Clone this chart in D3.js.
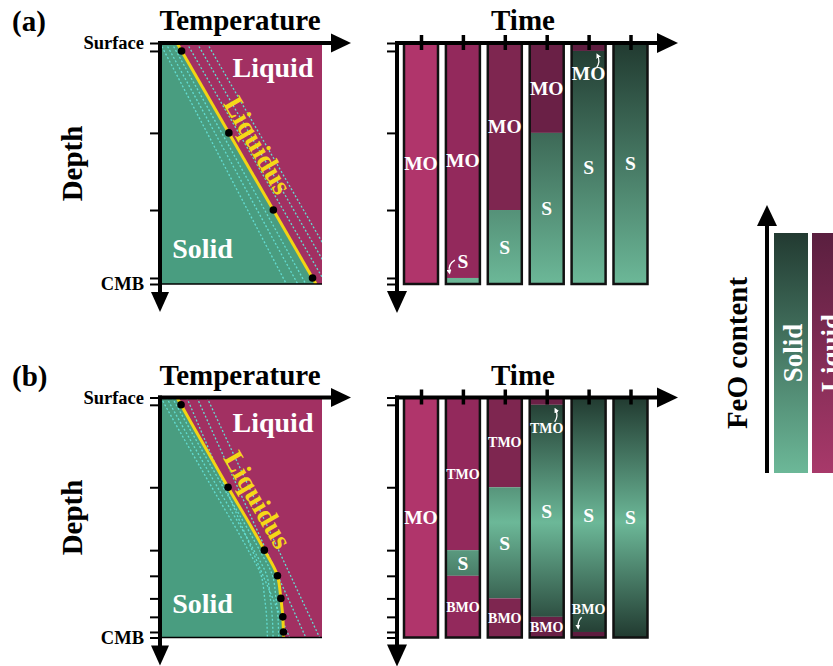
<!DOCTYPE html>
<html><head><meta charset="utf-8">
<script src="https://cdn.jsdelivr.net/npm/d3@7"></script>
<style>
body{margin:0;background:#fff}
svg{display:block}
text{font-family:"Liberation Serif","Times New Roman",serif;font-weight:bold}
</style>
</head><body>
<svg id="c" width="833" height="666"></svg>
<script>
// ---------------- data ----------------
const timeSteps = [1, 2, 3, 4, 5, 6];
const depthTicksA = [0, 0.033, 0.373, 0.693, 0.975, 1];
const depthTicksB = [0, 0.0305, 0.374, 0.636, 0.743, 0.837, 0.914, 0.977, 1];
const depthTickLabels = {0: "Surface", 1: "CMB"};
const liquidusA = [{d: 0, t: 0.105}, {d: 1, t: 0.963}];
const liquidusB = [{d: 0, t: 0.105}, {d: 0.0305, t: 0.13}, {d: 0.374, t: 0.42}, {d: 0.636, t: 0.644},
  {d: 0.743, t: 0.725}, {d: 0.837, t: 0.746}, {d: 0.914, t: 0.758}, {d: 0.977, t: 0.762}, {d: 1, t: 0.763}];
const dotDepthsA = [0.033, 0.373, 0.693, 0.975];
const dotDepthsB = [0.0305, 0.374, 0.636, 0.743, 0.837, 0.914, 0.977];
// dotted isolines: [temperature at surface, temperature at CMB]
const isoLeftA = [[0.072, 0.90], [0.035, 0.85], [0.0, 0.78]];
const isoRightA = [[0.165, 1.025], [0.228, 1.09], [0.29, 1.15]];
const isoLeftShiftB = [0.03, 0.065, 0.10];
const isoRightB = [[0.165, 0.80], [0.228, 0.90], [0.29, 0.985]];
// layers per time step (depth fractions)
const layersA = [
  [{top: 0, bot: 1, kind: "L", label: "MO"}],
  [{top: 0, bot: 0.975, kind: "L", label: "MO"}, {top: 0.975, bot: 1, kind: "S", label: "S", labelAt: 0.905, arrow: "sideDown"}],
  [{top: 0, bot: 0.693, kind: "L", label: "MO"}, {top: 0.693, bot: 1, kind: "S", label: "S"}],
  [{top: 0, bot: 0.373, kind: "L", label: "MO"}, {top: 0.373, bot: 1, kind: "S", label: "S"}],
  [{top: 0, bot: 0.033, kind: "L", label: "MO", labelAt: 0.127, arrow: "topUp"}, {top: 0.033, bot: 1, kind: "S", label: "S"}],
  [{top: 0, bot: 1, kind: "S", label: "S"}]
];
const layersB = [
  [{top: 0, bot: 1, kind: "L", label: "MO"}],
  [{top: 0, bot: 0.636, kind: "L", label: "TMO"}, {top: 0.636, bot: 0.743, kind: "S", label: "S"}, {top: 0.743, bot: 1, kind: "L", label: "BMO"}],
  [{top: 0, bot: 0.374, kind: "L", label: "TMO"}, {top: 0.374, bot: 0.837, kind: "S", label: "S"}, {top: 0.837, bot: 1, kind: "L", label: "BMO"}],
  [{top: 0, bot: 0.0305, kind: "L", label: "TMO", labelAt: 0.127, arrow: "topUp"}, {top: 0.0305, bot: 0.914, kind: "S", label: "S"}, {top: 0.914, bot: 1, kind: "L", label: "BMO"}],
  [{top: 0, bot: 0.977, kind: "S", label: "S"}, {top: 0.977, bot: 1, kind: "L", label: "BMO", labelAt: 0.882, arrow: "bottomDown"}],
  [{top: 0, bot: 1, kind: "S", label: "S"}]
];
const legendItems = ["Solid", "Liquid"];

// ---------------- style ----------------
const C = {
  solid: "#499d80", liquid: "#a23062", iso: "#63dcd2", liq: "#f2d414",
  liquidShades: ["#b0356b", "#93295c", "#7e2650", "#6a2046", "#5e1c3f", "#5e1c3f"],
  sDark: "#213a30", sLight: "#6cb898"
};

const svg = d3.select("#c");
const defs = svg.append("defs");

function grad(id, y1, y2, stops) {
  const g = defs.append("linearGradient").attr("id", id)
    .attr("gradientUnits", "userSpaceOnUse").attr("x1", 0).attr("x2", 0).attr("y1", y1).attr("y2", y2);
  stops.forEach(s => g.append("stop").attr("offset", s[0]).attr("stop-color", s[1]));
}

defs.append("marker").attr("id", "ah").attr("viewBox", "0 0 10 10").attr("refX", 5).attr("refY", 5)
  .attr("markerWidth", 5).attr("markerHeight", 5).attr("orient", "auto").attr("markerUnits", "userSpaceOnUse")
  .append("path").attr("d", "M0,0L10,5L0,10Z").attr("fill", "#fff");

const arrowShapes = {
  sideDown: "M-8,-1Q-15,3 -13.5,11",
  topUp: "M8,-6Q12,-12 9,-18",
  bottomDown: "M-7,8Q-11,12 -10.5,18"
};

const xT = d3.scaleLinear([0, 1], [160, 322]);
const xTime = d3.scalePoint(timeSteps, [421, 630.5]);
const barW = 34;

const panels = [
  {tag: "(a)", y0: 43, y1: 284, ticks: depthTicksA, liq: liquidusA, dots: dotDepthsA,
   isoL: isoLeftA.map(p => [{d: 0, t: p[0]}, {d: 1, t: p[1]}]),
   isoR: isoRightA.map(p => [{d: 0, t: p[0]}, {d: 1, t: p[1]}]),
   layers: layersA, gradStops: [[0, C.sDark], [1, C.sLight]]},
  {tag: "(b)", y0: 397.5, y1: 637.5, ticks: depthTicksB, liq: liquidusB, dots: dotDepthsB,
   isoL: isoLeftShiftB.map(s => liquidusB.map(p => ({d: p.d, t: p.t - s}))),
   isoR: isoRightB.map(p => [{d: 0, t: p[0]}, {d: 1, t: p[1]}]),
   layers: layersB, gradStops: [[0, C.sDark], [0.52, C.sLight], [1, C.sDark]]}
];

function arrowHead(g, pts) {
  g.append("path").attr("d", "M" + pts.join("L") + "Z").attr("fill", "#000");
}

panels.forEach((P, pi) => {
  const y = d3.scaleLinear([0, 1], [P.y0, P.y1]);
  const g = svg.append("g");
  const clipId = "clip" + pi;
  defs.append("clipPath").attr("id", clipId).append("rect")
    .attr("x", xT(0)).attr("y", P.y0).attr("width", xT(1) - xT(0)).attr("height", P.y1 - P.y0);
  const gradId = "sg" + pi;
  grad(gradId, P.y0, P.y1, P.gradStops);

  // ----- phase diagram -----
  g.append("rect").attr("x", xT(0)).attr("y", P.y0).attr("width", xT(1) - xT(0)).attr("height", P.y1 - P.y0).attr("fill", C.liquid);
  const cg = g.append("g").attr("clip-path", `url(#${clipId})`);
  const area = d3.area().y(d => y(d.d)).x0(xT(0)).x1(d => xT(d.t)).curve(d3.curveMonotoneY);
  cg.append("path").datum(P.liq).attr("d", area).attr("fill", C.solid);
  const line = d3.line().y(d => y(d.d)).x(d => xT(d.t)).curve(d3.curveMonotoneY);
  cg.selectAll(".iso").data(P.isoL.concat(P.isoR)).join("path")
    .attr("d", line).attr("fill", "none").attr("stroke", C.iso).attr("stroke-width", 1.3).attr("stroke-dasharray", "2,2");
  cg.append("path").datum(P.liq).attr("d", line).attr("fill", "none").attr("stroke", C.liq).attr("stroke-width", 3);
  const liqT = d => {
    const i = d3.bisector(p => p.d).left(P.liq, d);
    const a = P.liq[Math.max(0, i - 1)], b = P.liq[Math.min(P.liq.length - 1, i)];
    if (a.d === b.d) return a.t;
    return a.t + (b.t - a.t) * (d - a.d) / (b.d - a.d);
  };
  g.selectAll(".dot").data(P.dots).join("circle").attr("cx", d => xT(liqT(d))).attr("cy", d => y(d)).attr("r", 3.8).attr("fill", "#000");
  g.append("line").attr("x1", xT(0)).attr("x2", xT(1)).attr("y1", P.y1).attr("y2", P.y1).attr("stroke", "#000").attr("stroke-width", 1.5);

  g.append("text").attr("x", 273).attr("y", P.y0 + 34).attr("text-anchor", "middle").attr("font-size", 28).attr("fill", "#fff").text("Liquid");
  g.append("text").attr("x", 202.5).attr("y", P.y0 + 215).attr("text-anchor", "middle").attr("font-size", 28).attr("fill", "#fff").text("Solid");
  g.append("text").attr("transform", `translate(258,${P.y0 + 102}) rotate(60)`).attr("text-anchor", "middle").attr("dy", "0.35em")
    .attr("font-size", 28).attr("fill", "#f5d817").text("Liquidus");

  // depth axis (phase diagram)
  const yAxis = d3.axisLeft(y).tickValues(P.ticks).tickSize(10).tickPadding(6)
    .tickFormat(d => depthTickLabels[d] || "");
  g.append("g").attr("transform", `translate(${xT(0)},0)`).call(yAxis).call(a => {
    a.select(".domain").remove();
    a.attr("font-family", null).attr("font-size", null);
    a.selectAll("line").attr("stroke", "#000").attr("stroke-width", 2);
    a.selectAll("text").attr("font-size", 18.5).attr("fill", "#000");
  });
  // axis arrows
  g.append("line").attr("x1", xT(0) - 2).attr("x2", 334).attr("y1", P.y0).attr("y2", P.y0).attr("stroke", "#000").attr("stroke-width", 4);
  arrowHead(g, [[331, P.y0 - 9.5], [351, P.y0], [331, P.y0 + 9.5]]);
  g.append("line").attr("x1", xT(0)).attr("x2", xT(0)).attr("y1", P.y0 - 2).attr("y2", P.y1 + 12).attr("stroke", "#000").attr("stroke-width", 4);
  arrowHead(g, [[xT(0) - 9, P.y1 + 8], [xT(0), P.y1 + 28], [xT(0) + 9, P.y1 + 8]]);

  g.append("text").attr("x", 240).attr("y", P.y0 - 13).attr("text-anchor", "middle").attr("font-size", 29).attr("fill", "#000").text("Temperature");
  g.append("text").attr("transform", `translate(82,${(P.y0 + P.y1) / 2}) rotate(-90)`).attr("text-anchor", "middle")
    .attr("font-size", 29).attr("fill", "#000").text("Depth");
  g.append("text").attr("x", 12).attr("y", P.y0 - 12).attr("font-size", 29).attr("fill", "#000").text(P.tag);

  // ----- time columns -----
  const tg = svg.append("g");
  P.layers.forEach((layers, i) => {
    const cx = xTime(timeSteps[i]);
    tg.selectAll(null).data(layers).join("rect")
      .attr("x", cx - barW / 2).attr("width", barW)
      .attr("y", d => y(d.top)).attr("height", d => y(d.bot) - y(d.top))
      .attr("fill", d => d.kind === "L" ? C.liquidShades[i] : `url(#${gradId})`);
    tg.append("rect").attr("x", cx - barW / 2).attr("width", barW).attr("y", P.y0).attr("height", P.y1 - P.y0)
      .attr("fill", "none").attr("stroke", "#111").attr("stroke-width", 2.5);
    layers.forEach(d => {
      const ly = y(d.labelAt !== undefined ? d.labelAt : (d.top + d.bot) / 2);
      tg.append("text").attr("x", cx).attr("y", ly).attr("dy", "0.35em").attr("text-anchor", "middle")
        .attr("font-size", d.label.length > 2 ? 14 : 19.5).attr("fill", "#fff").text(d.label);
      if (d.arrow) {
        tg.append("path").attr("transform", `translate(${cx},${ly})`).attr("d", arrowShapes[d.arrow])
          .attr("fill", "none").attr("stroke", "#fff").attr("stroke-width", 1.3).attr("marker-end", "url(#ah)");
      }
    });
  });
  const ax = 397;
  const yAxis2 = d3.axisLeft(y).tickValues(P.ticks).tickSize(10).tickFormat("");
  tg.append("g").attr("transform", `translate(${ax},0)`).call(yAxis2).call(a => {
    a.select(".domain").remove();
    a.selectAll("line").attr("stroke", "#000").attr("stroke-width", 2);
  });
  tg.append("line").attr("x1", ax - 2).attr("x2", 660).attr("y1", P.y0).attr("y2", P.y0).attr("stroke", "#000").attr("stroke-width", 4);
  arrowHead(tg, [[657, P.y0 - 10], [678, P.y0], [657, P.y0 + 10]]);
  tg.append("line").attr("x1", ax).attr("x2", ax).attr("y1", P.y0 - 2).attr("y2", P.y1 + 12).attr("stroke", "#000").attr("stroke-width", 4);
  arrowHead(tg, [[ax - 10, P.y1 + 7], [ax, P.y1 + 29], [ax + 10, P.y1 + 7]]);
  const tAxis = d3.axisBottom(xTime).tickSize(15).tickFormat("");
  tg.append("g").attr("transform", `translate(0,${P.y0 - 8})`).call(tAxis).call(a => {
    a.select(".domain").remove();
    a.selectAll("line").attr("stroke", "#000").attr("stroke-width", 3.5);
  });
  tg.append("text").attr("x", 523).attr("y", P.y0 - 13).attr("text-anchor", "middle").attr("font-size", 29).attr("fill", "#000").text("Time");
});

// ----- legend -----
const lg = svg.append("g");
const ly0 = 233, ly1 = 473;
defs.append("linearGradient").attr("id", "legS").attr("x1", 0).attr("x2", 0).attr("y1", 0).attr("y2", 1)
  .call(g => { g.append("stop").attr("offset", 0).attr("stop-color", "#223a31"); g.append("stop").attr("offset", 1).attr("stop-color", "#6cb898"); });
defs.append("linearGradient").attr("id", "legL").attr("x1", 0).attr("x2", 0).attr("y1", 0).attr("y2", 1)
  .call(g => { g.append("stop").attr("offset", 0).attr("stop-color", "#5a1f3f"); g.append("stop").attr("offset", 1).attr("stop-color", "#a8396a"); });
const legX = d3.scalePoint(legendItems, [791, 829]);
lg.selectAll("rect").data(legendItems).join("rect")
  .attr("x", d => legX(d) - 17).attr("width", 34).attr("y", ly0).attr("height", ly1 - ly0)
  .attr("fill", (d, i) => i === 0 ? "url(#legS)" : "url(#legL)");
lg.selectAll(".lt").data(legendItems).join("text")
  .attr("transform", d => `translate(${legX(d) + 11},${(ly0 + ly1) / 2}) rotate(-90)`)
  .attr("text-anchor", "middle").attr("font-size", 27).attr("font-weight", "normal").attr("fill", "#fff").text(d => d);
lg.append("line").attr("x1", 767).attr("x2", 767).attr("y1", ly1).attr("y2", 222).attr("stroke", "#000").attr("stroke-width", 4);
arrowHead(lg, [[757, 226], [767, 205], [777, 226]]);
lg.append("text").attr("transform", `translate(747,${(ly0 + ly1) / 2}) rotate(-90)`).attr("text-anchor", "middle")
  .attr("font-size", 29).attr("fill", "#000").text("FeO content");
</script>
</body></html>
